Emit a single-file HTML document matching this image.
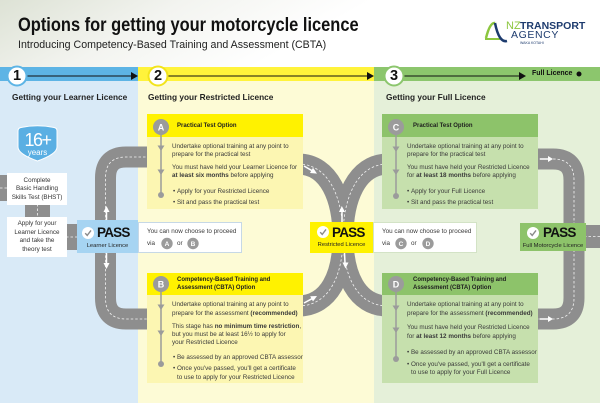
<!DOCTYPE html>
<html><head><meta charset="utf-8">
<style>
body{margin:0;width:600px;height:403px;position:relative;overflow:hidden;font-family:"Liberation Sans",Arial,sans-serif;color:#333;background:#fff}
.t{position:absolute;white-space:nowrap}
.b{font-size:6.3px;line-height:8.3px;color:#3a3a3a}
.h{font-size:6px;line-height:8px;font-weight:bold;color:#1e1e1e}
.g{font-size:8.3px;line-height:10px;font-weight:bold;color:#222}
.n{width:20px;text-align:center;font-size:14.5px;line-height:15px;font-weight:bold;color:#111}
.c{text-align:center;font-size:6.3px;line-height:8.5px;color:#333;width:60px}
.p{font-size:13.5px;line-height:14px;font-weight:bold;letter-spacing:-0.8px;color:#111}
.s{font-size:5.8px;line-height:7px;color:#222;text-align:center}
</style></head><body>
<svg width="600" height="403" viewBox="0 0 600 403" style="position:absolute;left:0;top:0" font-family="Liberation Sans, Arial, sans-serif">
<defs><linearGradient id="hg" x1="0" y1="0" x2="1" y2="0.2"><stop offset="0" stop-color="#dde2d5"/><stop offset="0.3" stop-color="#f3f4f0"/><stop offset="0.6" stop-color="#fff"/></linearGradient></defs>
<rect width="600" height="67" fill="url(#hg)"/>
<rect x="0" y="67" width="138" height="14" fill="#5db4e5"/>
<rect x="138" y="67" width="236" height="14" fill="#fff33b"/>
<rect x="374" y="67" width="226" height="14" fill="#8cc66d"/>
<rect x="0" y="81" width="138" height="322" fill="#d9eaf7"/>
<rect x="138" y="81" width="236" height="322" fill="#fdfbd6"/>
<rect x="374" y="81" width="226" height="322" fill="#e5f0d9"/>
<!-- band lines -->
<g stroke="#111" stroke-width="1">
<line x1="27" y1="76" x2="132" y2="76"/><line x1="168" y1="76" x2="368" y2="76"/><line x1="404" y1="76" x2="520" y2="76"/>
</g>
<g fill="#111"><path d="M131 72 L138 76 L131 80Z"/><path d="M367 72 L374 76 L367 80Z"/><path d="M519 72 L526 76 L519 80Z"/><circle cx="579" cy="74" r="2.5"/></g>
<circle cx="17" cy="76" r="9.5" fill="#fff" stroke="#5db4e5" stroke-width="2"/>
<circle cx="158" cy="76" r="9.5" fill="#fff" stroke="#f2e41c" stroke-width="2"/>
<circle cx="394" cy="76" r="9.5" fill="#fff" stroke="#8cc66d" stroke-width="2"/>
<!-- logo icon -->
<path d="M485 39 L500 39" stroke="#8cc63f" stroke-width="2"/>
<path d="M486 38 Q490 22 495 23" stroke="#8cc63f" stroke-width="2.5" fill="none"/>
<path d="M495 23 Q499 43 507 41" stroke="#1d3b6e" stroke-width="2.5" fill="none"/>
<!-- roads -->
<g fill="none" stroke="#8e8e8e" stroke-width="21">
<path d="M150 157 H126 Q105.5 157 105.5 178 V298 Q105.5 319 126 319 H150"/>
<path d="M298 164 C330 164 343 200 343 237 C343 274 356 306 388 306"/>
<path d="M298 306 C330 306 343 274 343 237 C343 200 356 164 388 164"/>
<path d="M535 159 H553 Q574 159 574 180 V298 Q574 319 553 319 H535"/>
</g>
<g fill="#8e8e8e"><rect x="0" y="175" width="8" height="26"/><rect x="25" y="204" width="25" height="14"/><rect x="66" y="224" width="12" height="26"/><rect x="584" y="225" width="16" height="23"/></g>
<g fill="none" stroke="#fff" stroke-width="0.8" stroke-dasharray="2.5 2" opacity="0.9">
<path d="M150 157 H126 Q105.5 157 105.5 178 V298 Q105.5 319 126 319 H150"/>
<path d="M298 164 C330 164 343 200 343 237 C343 274 356 306 388 306"/>
<path d="M298 306 C330 306 343 274 343 237 C343 200 356 164 388 164"/>
<path d="M535 159 H553 Q574 159 574 180 V298 Q574 319 553 319 H535"/>
<line x1="0" y1="188" x2="8" y2="188"/><line x1="37.5" y1="204" x2="37.5" y2="218"/><line x1="66" y1="237" x2="78" y2="237"/><line x1="584" y1="236.5" x2="600" y2="236.5"/>
</g>
<!-- road arrows -->
<g stroke="#fff" stroke-width="1.5" fill="#fff">
<line x1="106.5" y1="222" x2="106.5" y2="211"/><path d="M106.5 206 L103.5 212 L109.5 212Z" stroke="none"/>
<line x1="106.5" y1="253" x2="106.5" y2="264"/><path d="M106.5 269 L103.5 263 L109.5 263Z" stroke="none"/>
<line x1="304" y1="166" x2="312" y2="170.7"/><path d="M317 173.6 L310 173 L313 167.8Z" stroke="none"/>
<line x1="304" y1="303" x2="312" y2="298.7"/><path d="M317 296 L313 301.5 L310.2 296.3Z" stroke="none"/>
<line x1="342" y1="223" x2="342" y2="211"/><path d="M341.8 206 L339 212 L345 212Z" stroke="none"/>
<line x1="344.5" y1="253" x2="345" y2="263"/><path d="M345.5 268.5 L342.5 262.5 L348.5 262.5Z" stroke="none"/>
<line x1="540" y1="159" x2="548" y2="159"/><path d="M553 159 L548 156 L548 162Z" stroke="none"/>
<line x1="540" y1="319" x2="548" y2="319"/><path d="M553 319 L548 316 L548 322Z" stroke="none"/>
</g>
<!-- option boxes -->
<rect x="147" y="114" width="156" height="95" fill="#fcf6b2"/><rect x="147" y="114" width="156" height="23" fill="#fff200"/>
<rect x="147" y="273" width="156" height="110" fill="#fcf6b2"/><rect x="147" y="273" width="156" height="22" fill="#fff200"/>
<rect x="382" y="114" width="156" height="95" fill="#c6e0ad"/><rect x="382" y="114" width="156" height="23" fill="#8dc36a"/>
<rect x="382" y="273" width="156" height="110" fill="#c6e0ad"/><rect x="382" y="273" width="156" height="22" fill="#8dc36a"/>
<!-- timelines -->
<g stroke="#9b9b9b" stroke-width="1.5"><line x1="161" y1="127" x2="161" y2="195"/><line x1="161" y1="284" x2="161" y2="364"/><line x1="396" y1="127" x2="396" y2="196"/><line x1="396" y1="284" x2="396" y2="359"/></g>
<g fill="#9b9b9b">
<path d="M157.5 145.5 H164.5 L161 151Z"/><path d="M157.5 169.5 H164.5 L161 175Z"/><circle cx="161" cy="195" r="3"/>
<path d="M157.5 304.5 H164.5 L161 310Z"/><path d="M157.5 330.5 H164.5 L161 336Z"/><circle cx="161" cy="364" r="3"/>
<path d="M392.5 146.5 H399.5 L396 152Z"/><path d="M392.5 169.5 H399.5 L396 175Z"/><circle cx="396" cy="196" r="3"/>
<path d="M392.5 305.5 H399.5 L396 311Z"/><path d="M392.5 327.5 H399.5 L396 333Z"/><circle cx="396" cy="359" r="3"/>
<circle cx="161" cy="127" r="8"/><circle cx="161" cy="284" r="8"/><circle cx="396" cy="127" r="8"/><circle cx="396" cy="284" r="8"/>
</g>
<g fill="#fff" font-size="9" font-weight="bold" text-anchor="middle">
<text x="161" y="130.3">A</text><text x="161" y="287.3">B</text><text x="396" y="130.3">C</text><text x="396" y="287.3">D</text>
</g>
<!-- col1 boxes -->
<path d="M18 131 Q18 128 21 127.5 Q37.5 124 54 127.5 Q57 128 57 131 V147 Q57 154 37.5 161 Q18 154 18 147Z" fill="#5aafe3" stroke="#fff" stroke-width="1"/>
<rect x="7" y="173" width="60" height="32" fill="#fff"/>
<rect x="7" y="217" width="60" height="40" fill="#fff"/>
<!-- choose boxes -->
<rect x="138.5" y="222.5" width="103" height="30" fill="#fff" stroke="#c6d8e6"/>
<rect x="373.5" y="222.5" width="103" height="30" fill="#fff" stroke="#d3e3c6"/>
<g fill="#9b9b9b"><circle cx="167" cy="243.5" r="5.7"/><circle cx="193" cy="243.5" r="5.7"/><circle cx="401" cy="243.5" r="5.7"/><circle cx="428" cy="243.5" r="5.7"/></g>
<g fill="#fff" font-size="6.5" font-weight="bold" text-anchor="middle">
<text x="167" y="245.8">A</text><text x="193" y="245.8">B</text><text x="401" y="245.8">C</text><text x="428" y="245.8">D</text>
</g>
<!-- PASS boxes -->
<rect x="77" y="220" width="61" height="33" fill="#a6d4f2"/>
<rect x="310" y="222" width="63" height="31" fill="#fff200"/>
<rect x="520" y="223" width="66" height="28" fill="#8dc36a"/>
<g fill="#fff"><circle cx="88" cy="233" r="6"/><circle cx="323" cy="232" r="6"/><circle cx="533" cy="233" r="6"/></g>
<g fill="none" stroke="#8a8a8a" stroke-width="1.4">
<path d="M85.2 233.2 L87.2 235.4 L91 230.4"/><path d="M320.2 232.2 L322.2 234.4 L326 229.4"/><path d="M530.2 233.2 L532.2 235.4 L536 230.4"/>
</g>
</svg>

<div class="t" style="left:18px;top:16px;font-size:19px;line-height:19px;font-weight:bold;color:#111;transform:scaleX(.865);transform-origin:0 0">Options for getting your motorcycle licence</div>
<div class="t" style="left:18px;top:40px;font-size:11px;line-height:11px;color:#222;transform:scaleX(.966);transform-origin:0 0">Introducing Competency-Based Training and Assessment (CBTA)</div>

<div class="t" style="left:506px;top:20px;font-size:11px;line-height:12px;color:#8cc63f">NZ</div>
<div class="t" style="left:520px;top:20px;font-size:10.5px;line-height:12px;font-weight:bold;color:#1d3b6e">TRANSPORT</div>
<div class="t" style="left:511px;top:30px;font-size:10.5px;line-height:11px;letter-spacing:0.6px;color:#1d3b6e">AGENCY</div>
<div class="t" style="left:520px;top:41px;font-size:3.5px;line-height:4px;color:#1d3b6e">WAKA KOTAHI</div>

<div class="t n" style="left:7px;top:68.5px">1</div>
<div class="t n" style="left:148px;top:68.5px">2</div>
<div class="t n" style="left:384px;top:68.5px">3</div>
<div class="t" style="left:532px;top:70px;font-size:7px;line-height:8px;font-weight:bold;color:#111">Full Licence</div>

<div class="t g" style="left:12px;top:92px">Getting your Learner Licence</div>
<div class="t g" style="left:148px;top:92px">Getting your Restricted Licence</div>
<div class="t g" style="left:386px;top:92px">Getting your Full Licence</div>

<!-- col 1 -->
<div class="t" style="left:18px;top:131px;width:39px;text-align:center;font-size:18px;line-height:18px;letter-spacing:-1.5px;color:#fff">16+</div>
<div class="t" style="left:18px;top:149px;width:39px;text-align:center;font-size:8px;line-height:8px;color:#fff">years</div>
<div class="t c" style="left:7px;top:176.75px">Complete<br>Basic Handling<br>Skills Test (BHST)</div>
<div class="t c" style="left:7px;top:220px;line-height:8.6px">Apply for your<br>Learner Licence<br>and take the<br>theory test</div>

<div class="t p" style="left:97px;top:226px">PASS</div>
<div class="t s" style="left:77px;top:242.5px;width:61px">Learner Licence</div>
<div class="t p" style="left:332px;top:225.5px">PASS</div>
<div class="t s" style="left:310px;top:242px;width:63px">Restricted Licence</div>
<div class="t p" style="left:543px;top:226px">PASS</div>
<div class="t s" style="left:520px;top:242.5px;width:66px">Full Motorcycle Licence</div>

<div class="t b" style="left:147px;top:228px;line-height:8px">You can now choose to proceed</div>
<div class="t b" style="left:147px;top:240px;line-height:8px">via</div>
<div class="t b" style="left:177px;top:240px;line-height:8px">or</div>
<div class="t b" style="left:382px;top:228px;line-height:8px">You can now choose to proceed</div>
<div class="t b" style="left:382px;top:240px;line-height:8px">via</div>
<div class="t b" style="left:411px;top:240px;line-height:8px">or</div>

<!-- Box A -->
<div class="t h" style="left:177px;top:122px">Practical Test Option</div>
<div class="t b" style="left:172px;top:143px">Undertake optional training at any point to<br>prepare for the practical test</div>
<div class="t b" style="left:172px;top:164px">You must have held your Learner Licence for<br><b>at least six months</b> before applying</div>
<div class="t b" style="left:173px;top:188px">•&nbsp;Apply for your Restricted Licence</div>
<div class="t b" style="left:173px;top:198.5px">•&nbsp;Sit and pass the practical test</div>

<!-- Box B -->
<div class="t h" style="left:177px;top:276px">Competency-Based Training and<br>Assessment (CBTA) Option</div>
<div class="t b" style="left:172px;top:299.5px;line-height:9px">Undertake optional training at any point to<br>prepare for the assessment <b>(recommended)</b></div>
<div class="t b" style="left:172px;top:322.9px;line-height:8.2px">This stage has <b>no minimum time restriction</b>,<br>but you must be at least 16½ to apply for<br>your Restricted Licence</div>
<div class="t b" style="left:173px;top:354px">•&nbsp;Be assessed by an approved CBTA assessor</div>
<div class="t b" style="left:173px;top:363.5px;line-height:9px">•&nbsp;Once you've passed, you'll get a certificate<br><span style="padding-left:4px">to use to apply for your Restricted Licence</span></div>

<!-- Box C -->
<div class="t h" style="left:413px;top:122px">Practical Test Option</div>
<div class="t b" style="left:407px;top:143px">Undertake optional training at any point to<br>prepare for the practical test</div>
<div class="t b" style="left:407px;top:164px">You must have held your Restricted Licence<br>for <b>at least 18 months</b> before applying</div>
<div class="t b" style="left:407px;top:188px">•&nbsp;Apply for your Full Licence</div>
<div class="t b" style="left:407px;top:198.5px">•&nbsp;Sit and pass the practical test</div>

<!-- Box D -->
<div class="t h" style="left:413px;top:276px">Competency-Based Training and<br>Assessment (CBTA) Option</div>
<div class="t b" style="left:407px;top:299.5px;line-height:9px">Undertake optional training at any point to<br>prepare for the assessment <b>(recommended)</b></div>
<div class="t b" style="left:407px;top:322.75px;line-height:9px">You must have held your Restricted Licence<br>for <b>at least 12 months</b> before applying</div>
<div class="t b" style="left:407px;top:349px">•&nbsp;Be assessed by an approved CBTA assessor</div>
<div class="t b" style="left:407px;top:360.5px;line-height:8.5px">•&nbsp;Once you've passed, you'll get a certificate<br><span style="padding-left:4px">to use to apply for your Full Licence</span></div>
</body></html>
